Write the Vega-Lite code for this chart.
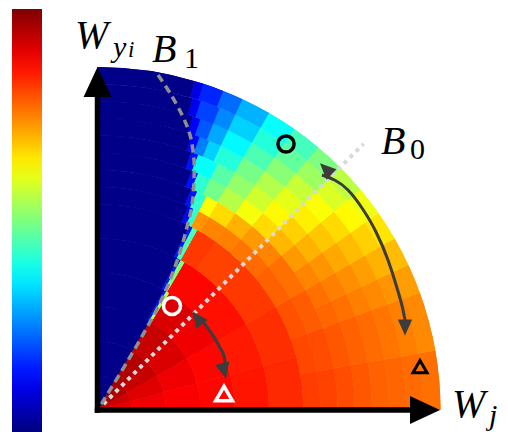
{
  "$schema": "https://vega.github.io/schema/vega-lite/v6.json",
  "width": 508,
  "height": 432,
  "padding": 0,
  "autosize": {"type": "none"},
  "background": "white",
  "config": {"view": {"stroke": null}, "axis": {"disable": true}},
  "datasets": {
    "heat": [
      {"a0":0,"a1":15,"r0":0,"r1":0.1,"v":0.9},
      {"a0":15,"a1":30,"r0":0,"r1":0.1,"v":0.92},
      {"a0":30,"a1":45,"r0":0,"r1":0.1,"v":0.95},
      {"a0":45,"a1":60,"r0":0,"r1":0.1,"v":0.96},
      {"a0":60,"a1":90,"r0":0,"r1":0.1,"v":0.01},
      {"a0":0,"a1":15,"r0":0.1,"r1":0.2,"v":0.89},
      {"a0":15,"a1":30,"r0":0.1,"r1":0.2,"v":0.905},
      {"a0":30,"a1":45,"r0":0.1,"r1":0.2,"v":0.93},
      {"a0":45,"a1":59.5,"r0":0.1,"r1":0.2,"v":0.95},
      {"a0":59.5,"a1":90,"r0":0.1,"r1":0.2,"v":0.01},
      {"a0":0,"a1":15,"r0":0.2,"r1":0.3,"v":0.88},
      {"a0":15,"a1":30,"r0":0.2,"r1":0.3,"v":0.89},
      {"a0":30,"a1":45,"r0":0.2,"r1":0.3,"v":0.91},
      {"a0":45,"a1":59.5,"r0":0.2,"r1":0.3,"v":0.93},
      {"a0":59.5,"a1":90,"r0":0.2,"r1":0.3,"v":0.01},
      {"a0":0,"a1":15,"r0":0.3,"r1":0.4,"v":0.87},
      {"a0":15,"a1":30,"r0":0.3,"r1":0.4,"v":0.87},
      {"a0":30,"a1":45,"r0":0.3,"r1":0.4,"v":0.89},
      {"a0":45,"a1":58.5,"r0":0.3,"r1":0.4,"v":0.91},
      {"a0":58.5,"a1":60,"r0":0.3,"r1":0.4,"v":0.55},
      {"a0":60,"a1":61,"r0":0.3,"r1":0.4,"v":0.15},
      {"a0":61,"a1":90,"r0":0.3,"r1":0.4,"v":0.01},
      {"a0":0,"a1":15,"r0":0.4,"r1":0.5,"v":0.855},
      {"a0":15,"a1":30,"r0":0.4,"r1":0.5,"v":0.85},
      {"a0":30,"a1":45,"r0":0.4,"r1":0.5,"v":0.86},
      {"a0":45,"a1":59.5,"r0":0.4,"r1":0.5,"v":0.87},
      {"a0":59.5,"a1":61,"r0":0.4,"r1":0.5,"v":0.5},
      {"a0":61,"a1":62,"r0":0.4,"r1":0.5,"v":0.15},
      {"a0":62,"a1":90,"r0":0.4,"r1":0.5,"v":0.01},
      {"a0":0,"a1":15,"r0":0.5,"r1":0.6,"v":0.835},
      {"a0":15,"a1":30,"r0":0.5,"r1":0.6,"v":0.83},
      {"a0":30,"a1":45,"r0":0.5,"r1":0.6,"v":0.82},
      {"a0":45,"a1":55,"r0":0.5,"r1":0.6,"v":0.81},
      {"a0":55,"a1":61,"r0":0.5,"r1":0.6,"v":0.82},
      {"a0":61,"a1":62.5,"r0":0.5,"r1":0.6,"v":0.45},
      {"a0":62.5,"a1":63.5,"r0":0.5,"r1":0.6,"v":0.15},
      {"a0":63.5,"a1":90,"r0":0.5,"r1":0.6,"v":0.01},
      {"a0":0,"a1":10,"r0":0.6,"r1":0.65,"v":0.815},
      {"a0":10,"a1":20,"r0":0.6,"r1":0.65,"v":0.805},
      {"a0":20,"a1":30,"r0":0.6,"r1":0.65,"v":0.795},
      {"a0":30,"a1":40,"r0":0.6,"r1":0.65,"v":0.78},
      {"a0":40,"a1":45,"r0":0.6,"r1":0.65,"v":0.77},
      {"a0":45,"a1":50,"r0":0.6,"r1":0.65,"v":0.76},
      {"a0":50,"a1":55,"r0":0.6,"r1":0.65,"v":0.75},
      {"a0":55,"a1":60,"r0":0.6,"r1":0.65,"v":0.745},
      {"a0":60,"a1":63,"r0":0.6,"r1":0.65,"v":0.73},
      {"a0":63,"a1":64.5,"r0":0.6,"r1":0.65,"v":0.42},
      {"a0":64.5,"a1":66,"r0":0.6,"r1":0.65,"v":0.13},
      {"a0":66,"a1":90,"r0":0.6,"r1":0.65,"v":0.01},
      {"a0":0,"a1":10,"r0":0.65,"r1":0.7,"v":0.81},
      {"a0":10,"a1":20,"r0":0.65,"r1":0.7,"v":0.8},
      {"a0":20,"a1":30,"r0":0.65,"r1":0.7,"v":0.785},
      {"a0":30,"a1":40,"r0":0.65,"r1":0.7,"v":0.765},
      {"a0":40,"a1":45,"r0":0.65,"r1":0.7,"v":0.745},
      {"a0":45,"a1":50,"r0":0.65,"r1":0.7,"v":0.725},
      {"a0":50,"a1":55,"r0":0.65,"r1":0.7,"v":0.7},
      {"a0":55,"a1":60,"r0":0.65,"r1":0.7,"v":0.66},
      {"a0":60,"a1":63,"r0":0.65,"r1":0.7,"v":0.62},
      {"a0":63,"a1":65.5,"r0":0.65,"r1":0.7,"v":0.42},
      {"a0":65.5,"a1":67,"r0":0.65,"r1":0.7,"v":0.14},
      {"a0":67,"a1":90,"r0":0.65,"r1":0.7,"v":0.01},
      {"a0":0,"a1":10,"r0":0.7,"r1":0.75,"v":0.8},
      {"a0":10,"a1":20,"r0":0.7,"r1":0.75,"v":0.79},
      {"a0":20,"a1":25,"r0":0.7,"r1":0.75,"v":0.775},
      {"a0":25,"a1":30,"r0":0.7,"r1":0.75,"v":0.765},
      {"a0":30,"a1":35,"r0":0.7,"r1":0.75,"v":0.745},
      {"a0":35,"a1":40,"r0":0.7,"r1":0.75,"v":0.725},
      {"a0":40,"a1":45,"r0":0.7,"r1":0.75,"v":0.695},
      {"a0":45,"a1":50,"r0":0.7,"r1":0.75,"v":0.66},
      {"a0":50,"a1":55,"r0":0.7,"r1":0.75,"v":0.615},
      {"a0":55,"a1":60,"r0":0.7,"r1":0.75,"v":0.555},
      {"a0":60,"a1":64,"r0":0.7,"r1":0.75,"v":0.49},
      {"a0":64,"a1":67,"r0":0.7,"r1":0.75,"v":0.42},
      {"a0":67,"a1":68.5,"r0":0.7,"r1":0.75,"v":0.14},
      {"a0":68.5,"a1":90,"r0":0.7,"r1":0.75,"v":0.01},
      {"a0":0,"a1":10,"r0":0.75,"r1":0.8,"v":0.79},
      {"a0":10,"a1":20,"r0":0.75,"r1":0.8,"v":0.78},
      {"a0":20,"a1":25,"r0":0.75,"r1":0.8,"v":0.765},
      {"a0":25,"a1":30,"r0":0.75,"r1":0.8,"v":0.75},
      {"a0":30,"a1":35,"r0":0.75,"r1":0.8,"v":0.73},
      {"a0":35,"a1":40,"r0":0.75,"r1":0.8,"v":0.7},
      {"a0":40,"a1":45,"r0":0.75,"r1":0.8,"v":0.67},
      {"a0":45,"a1":50,"r0":0.75,"r1":0.8,"v":0.63},
      {"a0":50,"a1":55,"r0":0.75,"r1":0.8,"v":0.58},
      {"a0":55,"a1":60,"r0":0.75,"r1":0.8,"v":0.52},
      {"a0":60,"a1":64,"r0":0.75,"r1":0.8,"v":0.46},
      {"a0":64,"a1":68.5,"r0":0.75,"r1":0.8,"v":0.38},
      {"a0":68.5,"a1":70,"r0":0.75,"r1":0.8,"v":0.14},
      {"a0":70,"a1":90,"r0":0.75,"r1":0.8,"v":0.01},
      {"a0":0,"a1":10,"r0":0.8,"r1":0.85,"v":0.78},
      {"a0":10,"a1":20,"r0":0.8,"r1":0.85,"v":0.77},
      {"a0":20,"a1":25,"r0":0.8,"r1":0.85,"v":0.75},
      {"a0":25,"a1":30,"r0":0.8,"r1":0.85,"v":0.735},
      {"a0":30,"a1":35,"r0":0.8,"r1":0.85,"v":0.71},
      {"a0":35,"a1":40,"r0":0.8,"r1":0.85,"v":0.68},
      {"a0":40,"a1":45,"r0":0.8,"r1":0.85,"v":0.64},
      {"a0":45,"a1":50,"r0":0.8,"r1":0.85,"v":0.6},
      {"a0":50,"a1":55,"r0":0.8,"r1":0.85,"v":0.55},
      {"a0":55,"a1":60,"r0":0.8,"r1":0.85,"v":0.49},
      {"a0":60,"a1":65,"r0":0.8,"r1":0.85,"v":0.41},
      {"a0":65,"a1":67.5,"r0":0.8,"r1":0.85,"v":0.33},
      {"a0":67.5,"a1":69.5,"r0":0.8,"r1":0.85,"v":0.25},
      {"a0":69.5,"a1":71,"r0":0.8,"r1":0.85,"v":0.13},
      {"a0":71,"a1":90,"r0":0.8,"r1":0.85,"v":0.01},
      {"a0":0,"a1":10,"r0":0.85,"r1":0.9,"v":0.775},
      {"a0":10,"a1":20,"r0":0.85,"r1":0.9,"v":0.76},
      {"a0":20,"a1":25,"r0":0.85,"r1":0.9,"v":0.74},
      {"a0":25,"a1":30,"r0":0.85,"r1":0.9,"v":0.72},
      {"a0":30,"a1":35,"r0":0.85,"r1":0.9,"v":0.69},
      {"a0":35,"a1":40,"r0":0.85,"r1":0.9,"v":0.66},
      {"a0":40,"a1":45,"r0":0.85,"r1":0.9,"v":0.62},
      {"a0":45,"a1":50,"r0":0.85,"r1":0.9,"v":0.57},
      {"a0":50,"a1":55,"r0":0.85,"r1":0.9,"v":0.51},
      {"a0":55,"a1":60,"r0":0.85,"r1":0.9,"v":0.45},
      {"a0":60,"a1":65,"r0":0.85,"r1":0.9,"v":0.37},
      {"a0":65,"a1":68,"r0":0.85,"r1":0.9,"v":0.29},
      {"a0":68,"a1":70.5,"r0":0.85,"r1":0.9,"v":0.21},
      {"a0":70.5,"a1":72,"r0":0.85,"r1":0.9,"v":0.12},
      {"a0":72,"a1":90,"r0":0.85,"r1":0.9,"v":0.01},
      {"a0":0,"a1":10,"r0":0.9,"r1":0.95,"v":0.77},
      {"a0":10,"a1":20,"r0":0.9,"r1":0.95,"v":0.75},
      {"a0":20,"a1":25,"r0":0.9,"r1":0.95,"v":0.73},
      {"a0":25,"a1":30,"r0":0.9,"r1":0.95,"v":0.7},
      {"a0":30,"a1":35,"r0":0.9,"r1":0.95,"v":0.67},
      {"a0":35,"a1":40,"r0":0.9,"r1":0.95,"v":0.63},
      {"a0":40,"a1":45,"r0":0.9,"r1":0.95,"v":0.59},
      {"a0":45,"a1":50,"r0":0.9,"r1":0.95,"v":0.53},
      {"a0":50,"a1":55,"r0":0.9,"r1":0.95,"v":0.47},
      {"a0":55,"a1":60,"r0":0.9,"r1":0.95,"v":0.41},
      {"a0":60,"a1":65,"r0":0.9,"r1":0.95,"v":0.33},
      {"a0":65,"a1":68,"r0":0.9,"r1":0.95,"v":0.26},
      {"a0":68,"a1":71.5,"r0":0.9,"r1":0.95,"v":0.19},
      {"a0":71.5,"a1":73,"r0":0.9,"r1":0.95,"v":0.11},
      {"a0":73,"a1":90,"r0":0.9,"r1":0.95,"v":0.01},
      {"a0":0,"a1":10,"r0":0.95,"r1":1,"v":0.765},
      {"a0":10,"a1":20,"r0":0.95,"r1":1,"v":0.74},
      {"a0":20,"a1":25,"r0":0.95,"r1":1,"v":0.72},
      {"a0":25,"a1":30,"r0":0.95,"r1":1,"v":0.69},
      {"a0":30,"a1":35,"r0":0.95,"r1":1,"v":0.65},
      {"a0":35,"a1":40,"r0":0.95,"r1":1,"v":0.61},
      {"a0":40,"a1":45,"r0":0.95,"r1":1,"v":0.56},
      {"a0":45,"a1":50,"r0":0.95,"r1":1,"v":0.5},
      {"a0":50,"a1":55,"r0":0.95,"r1":1,"v":0.44},
      {"a0":55,"a1":60,"r0":0.95,"r1":1,"v":0.38},
      {"a0":60,"a1":65,"r0":0.95,"r1":1,"v":0.3},
      {"a0":65,"a1":68.5,"r0":0.95,"r1":1,"v":0.23},
      {"a0":68.5,"a1":72,"r0":0.95,"r1":1,"v":0.16},
      {"a0":72,"a1":73.5,"r0":0.95,"r1":1,"v":0.1},
      {"a0":73.5,"a1":90,"r0":0.95,"r1":1,"v":0.01}
    ],
    "b0": [
      {"o":0,"x":0,"y":0},
      {"o":1,"x":0.776,"y":0.776}
    ],
    "b1": [
      {"o":0,"x":0.1764,"y":0.9767},
      {"o":1,"x":0.2114,"y":0.9242},
      {"o":2,"x":0.2493,"y":0.8542},
      {"o":3,"x":0.2697,"y":0.8017},
      {"o":4,"x":0.2813,"y":0.7289},
      {"o":5,"x":0.2813,"y":0.6706},
      {"o":6,"x":0.2755,"y":0.5977},
      {"o":7,"x":0.2609,"y":0.5335},
      {"o":8,"x":0.2405,"y":0.4606},
      {"o":9,"x":0.2114,"y":0.379},
      {"o":10,"x":0.1822,"y":0.312},
      {"o":11,"x":0.1035,"y":0.1691},
      {"o":12,"x":0,"y":0}
    ],
    "arrows": [
      {"id":"small","o":0,"x":0.3073,"y":0.2577},
      {"id":"small","o":1,"x":0.3362,"y":0.2184},
      {"id":"small","o":2,"x":0.3571,"y":0.1819},
      {"id":"small","o":3,"x":0.3703,"y":0.1516},
      {"id":"small","o":4,"x":0.3732,"y":0.1283},
      {"id":"big","o":0,"x":0.6545,"y":0.6851},
      {"id":"big","o":1,"x":0.7303,"y":0.6414},
      {"id":"big","o":2,"x":0.7711,"y":0.5889},
      {"id":"big","o":3,"x":0.812,"y":0.519},
      {"id":"big","o":4,"x":0.8469,"y":0.4373},
      {"id":"big","o":5,"x":0.8732,"y":0.3557},
      {"id":"big","o":6,"x":0.8907,"y":0.2915},
      {"id":"big","o":7,"x":0.8965,"y":0.2624}
    ],
    "heads": [
      {"id":"yax","x":0,"y":0.9563},
      {"id":"xax","x":0.9548,"y":0},
      {"id":"s1","x":0.2908,"y":0.2686},
      {"id":"s2","x":0.3691,"y":0.114},
      {"id":"b1","x":0.6653,"y":0.7029},
      {"id":"b2","x":0.8965,"y":0.2405}
    ],
    "axes": [
      {"x":0,"y":0,"x2":0,"y2":0.92},
      {"x":0,"y":0,"x2":0.92,"y2":0}
    ],
    "markers": [
      {"id":"wc","x":0.2172,"y":0.3032},
      {"id":"bc","x":0.5496,"y":0.7755},
      {"id":"wt","x":0.3688,"y":0.0481},
      {"id":"bt","x":0.9402,"y":0.1268}
    ],
    "labels": [
      {"t":"W","x":-0.0656,"y":1.0554,"k":"m"},
      {"t":"B","x":0.1589,"y":1.0146,"k":"m"},
      {"t":"B","x":0.8265,"y":0.7464,"k":"m"},
      {"t":"W","x":1.0335,"y":-0.0204,"k":"m"},
      {"t":"y","x":0.0452,"y":1.0292,"k":"s"},
      {"t":"j","x":1.1414,"y":-0.0437,"k":"s"},
      {"t":"i","x":0.0889,"y":1.0292,"k":"ss"},
      {"t":"1","x":0.2522,"y":0.9985,"k":"d"},
      {"t":"0","x":0.9111,"y":0.7318,"k":"d"}
    ]
  },
  "layer": [
    {
      "data": {"name": "heat"},
      "mark": {"type": "arc"},
      "encoding": {
        "x": {"datum": 0, "type": "quantitative", "axis": null, "scale": {"domain": [-0.2843, 1.1968], "nice": false, "zero": false}},
        "y": {"datum": 0, "type": "quantitative", "axis": null, "scale": {"domain": [-0.0641, 1.1953], "nice": false, "zero": false}},
        "theta": {"field": "a0", "type": "quantitative", "scale": {"type": "linear", "domain": [0, 90], "range": [1.5707963, 0], "zero": false, "nice": false}},
        "theta2": {"field": "a1"},
        "radius": {"field": "r1", "type": "quantitative", "scale": {"type": "linear", "domain": [0, 1], "range": [0, 343], "zero": true, "nice": false}},
        "radius2": {"field": "r0"},
        "color": {
          "field": "v", "type": "quantitative",
          "scale": {"domain": [0, 0.125, 0.25, 0.375, 0.5, 0.625, 0.75, 0.875, 1], "range": ["#00007f", "#0000ff", "#007fff", "#00ffff", "#7fff7f", "#ffff00", "#ff7f00", "#ff0000", "#7f0000"], "interpolate": "rgb"},
          "legend": {"type": "gradient", "orient": "none", "legendX": 12, "legendY": 9, "direction": "vertical", "gradientLength": 423, "gradientThickness": 30, "title": null, "labelExpr": "''", "labelOpacity": 0, "gradientStrokeWidth": 0, "padding": 0}
        }
      }
    },
    {
      "data": {"name": "heat"},
      "mark": {"type": "arc"},
      "encoding": {
        "x": {"datum": 0, "type": "quantitative", "axis": null, "scale": {"domain": [-0.2843, 1.1968], "nice": false, "zero": false}},
        "y": {"datum": 0, "type": "quantitative", "axis": null, "scale": {"domain": [-0.0641, 1.1953], "nice": false, "zero": false}},
        "theta": {"field": "a0", "type": "quantitative", "scale": {"type": "linear", "domain": [0, 90], "range": [1.5707963, 0], "zero": false, "nice": false}},
        "theta2": {"field": "a1"},
        "radius": {"field": "r1", "type": "quantitative", "scale": {"type": "linear", "domain": [0, 1], "range": [0, 343], "zero": true, "nice": false}},
        "radius2": {"field": "r0"},
        "color": {
          "field": "v", "type": "quantitative",
          "scale": {"domain": [0, 0.125, 0.25, 0.375, 0.5, 0.625, 0.75, 0.875, 1], "range": ["#00007f", "#0000ff", "#007fff", "#00ffff", "#7fff7f", "#ffff00", "#ff7f00", "#ff0000", "#7f0000"], "interpolate": "rgb"},
          "legend": {"type": "gradient", "orient": "none", "legendX": 12, "legendY": 9, "direction": "vertical", "gradientLength": 423, "gradientThickness": 30, "title": null, "labelExpr": "''", "labelOpacity": 0, "gradientStrokeWidth": 0, "padding": 0}
        }
      }
    },
    {
      "encoding": {
        "x": {"field": "x", "type": "quantitative", "axis": null, "scale": {"domain": [-0.2843, 1.1968], "nice": false, "zero": false}},
        "y": {"field": "y", "type": "quantitative", "axis": null, "scale": {"domain": [-0.0641, 1.1953], "nice": false, "zero": false}}
      },
      "layer": [
        {
          "data": {"name": "b0"},
          "mark": {"type": "line", "color": "#d9d9d9", "strokeWidth": 4, "strokeDash": [4, 4.5]},
          "encoding": {"order": {"field": "o", "type": "quantitative"}}
        },
        {
          "data": {"name": "b1"},
          "mark": {"type": "line", "color": "#8f8f8f", "strokeWidth": 3.5, "strokeDash": [8, 5], "interpolate": "catmull-rom"},
          "encoding": {"order": {"field": "o", "type": "quantitative"}}
        },
        {
          "data": {"name": "arrows"},
          "mark": {"type": "line", "color": "#3c3c3c", "strokeWidth": 3, "interpolate": "monotone"},
          "encoding": {"order": {"field": "o", "type": "quantitative"}, "detail": {"field": "id", "type": "nominal"}}
        },
        {
          "data": {"name": "heads"},
          "transform": [{"filter": "datum.id == 's1'"}],
          "mark": {"type": "point", "shape": "M0,-1L-0.9,1L0.9,1Z", "size": 256, "filled": true, "color": "#3c3c3c", "opacity": 1, "angle": 323.5}
        },
        {
          "data": {"name": "heads"},
          "transform": [{"filter": "datum.id == 's2'"}],
          "mark": {"type": "point", "shape": "M0,-1L-0.9,1L0.9,1Z", "size": 256, "filled": true, "color": "#3c3c3c", "opacity": 1, "angle": 166}
        },
        {
          "data": {"name": "heads"},
          "transform": [{"filter": "datum.id == 'b1'"}],
          "mark": {"type": "point", "shape": "M0,-1L-0.9,1L0.9,1Z", "size": 256, "filled": true, "color": "#3c3c3c", "opacity": 1, "angle": 314}
        },
        {
          "data": {"name": "heads"},
          "transform": [{"filter": "datum.id == 'b2'"}],
          "mark": {"type": "point", "shape": "M0,-1L-0.9,1L0.9,1Z", "size": 256, "filled": true, "color": "#3c3c3c", "opacity": 1, "angle": 180}
        },
        {
          "data": {"name": "markers"},
          "transform": [{"filter": "datum.id == 'wc'"}],
          "mark": {"type": "point", "shape": "circle", "size": 290, "filled": false, "stroke": "white", "strokeWidth": 3.5, "opacity": 1}
        },
        {
          "data": {"name": "markers"},
          "transform": [{"filter": "datum.id == 'bc'"}],
          "mark": {"type": "point", "shape": "circle", "size": 260, "filled": false, "stroke": "black", "strokeWidth": 3.5, "opacity": 1}
        },
        {
          "data": {"name": "markers"},
          "transform": [{"filter": "datum.id == 'wt'"}],
          "mark": {"type": "point", "shape": "triangle-up", "size": 280, "filled": false, "stroke": "white", "strokeWidth": 3.5, "opacity": 1}
        },
        {
          "data": {"name": "markers"},
          "transform": [{"filter": "datum.id == 'bt'"}],
          "mark": {"type": "point", "shape": "triangle-up", "size": 200, "filled": false, "stroke": "black", "strokeWidth": 3, "opacity": 1}
        },
        {
          "data": {"name": "axes"},
          "mark": {"type": "rule", "color": "black", "strokeWidth": 5.5, "strokeCap": "square"},
          "encoding": {"x2": {"field": "x2"}, "y2": {"field": "y2"}}
        },
        {
          "data": {"name": "heads"},
          "transform": [{"filter": "datum.id == 'yax'"}],
          "mark": {"type": "point", "shape": "M0,-1L-0.93,1L0.93,1Z", "size": 900, "filled": true, "color": "black", "opacity": 1, "angle": 0}
        },
        {
          "data": {"name": "heads"},
          "transform": [{"filter": "datum.id == 'xax'"}],
          "mark": {"type": "point", "shape": "M0,-1L-0.93,1L0.93,1Z", "size": 900, "filled": true, "color": "black", "opacity": 1, "angle": 90}
        },
        {
          "data": {"name": "labels"},
          "transform": [{"filter": "datum.k == 'm'"}],
          "mark": {"type": "text", "font": "Liberation Serif", "fontStyle": "italic", "fontSize": 40, "align": "left", "baseline": "alphabetic", "color": "black"},
          "encoding": {"text": {"field": "t"}}
        },
        {
          "data": {"name": "labels"},
          "transform": [{"filter": "datum.k == 's'"}],
          "mark": {"type": "text", "font": "Liberation Serif", "fontStyle": "italic", "fontSize": 30, "align": "left", "baseline": "alphabetic", "color": "black"},
          "encoding": {"text": {"field": "t"}}
        },
        {
          "data": {"name": "labels"},
          "transform": [{"filter": "datum.k == 'ss'"}],
          "mark": {"type": "text", "font": "Liberation Serif", "fontStyle": "italic", "fontSize": 23, "align": "left", "baseline": "alphabetic", "color": "black"},
          "encoding": {"text": {"field": "t"}}
        },
        {
          "data": {"name": "labels"},
          "transform": [{"filter": "datum.k == 'd'"}],
          "mark": {"type": "text", "font": "Liberation Serif", "fontSize": 30, "align": "left", "baseline": "alphabetic", "color": "black"},
          "encoding": {"text": {"field": "t"}}
        }
      ]
    }
  ]
}
